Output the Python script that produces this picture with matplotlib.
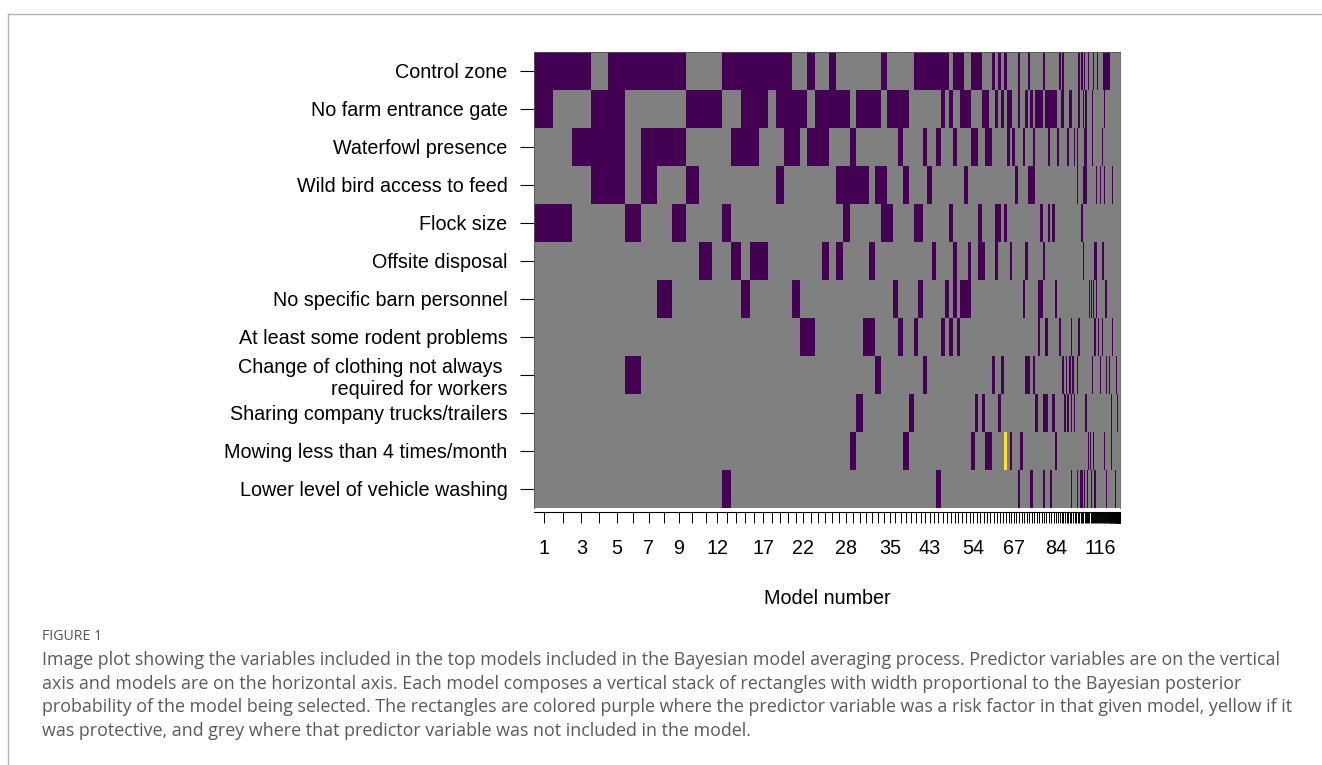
import numpy as np
import matplotlib
matplotlib.use("Agg")
import matplotlib.pyplot as plt
from matplotlib.colors import ListedColormap

plt.rcParams["font.family"] = ["Liberation Sans", "DejaVu Sans"]

# ---------------- data ----------------
variables = [
    "Control zone",
    "No farm entrance gate",
    "Waterfowl presence",
    "Wild bird access to feed",
    "Flock size",
    "Offsite disposal",
    "No specific barn personnel",
    "At least some rodent problems",
    "Change of clothing not always \nrequired for workers",
    "Sharing company trucks/trailers",
    "Mowing less than 4 times/month",
    "Lower level of vehicle washing",
]

# relative posterior model probabilities (widths), models 1..160
pmp = [
    19.2, 19.1, 18.4, 17.6, 16.7, 15.9, 15.8, 15.0, 14.0, 13.3,
    13.3, 9.6, 9.5, 9.4, 9.2, 9.1, 8.7, 8.3, 8.0, 7.9,
    7.8, 7.5, 7.4, 7.3, 7.0, 6.9, 6.9, 6.8, 6.7, 6.6,
    6.5, 6.0, 5.9, 5.8, 5.8, 5.4, 5.3, 5.1, 5.1, 4.6,
    4.6, 4.5, 4.5, 4.4, 4.3, 4.1, 4.0, 4.0, 3.9, 3.8,
    3.8, 3.6, 3.6, 3.6, 3.5, 3.5, 3.4, 3.3, 3.3, 3.2,
    3.2, 3.1, 3.0, 2.7, 2.7, 2.6, 2.6, 2.6, 2.6, 2.6,
    2.5, 2.5, 2.5, 2.5, 2.5, 2.5, 2.5, 2.5, 2.4, 2.4,
    2.4, 2.4, 2.4, 2.4, 1.75, 1.75, 1.75, 1.75, 1.6, 1.6,
    1.6, 1.6, 1.6, 1.6, 1.6, 1.6, 1.45, 1.45, 1.45, 1.45,
    1.25, 1.25, 1.25, 1.25, 1.1, 1.1, 1.1, 1.1, 1.1, 1.1,
    1.1, 1.1, 1.0, 1.0, 1.0, 1.0, 0.97, 0.93, 0.9, 0.85,
    0.8, 0.78, 0.75, 0.72, 0.7, 0.67, 0.64, 0.62, 0.6, 0.57,
    0.55, 0.52, 0.5, 0.48, 0.46, 0.44, 0.42, 0.4, 0.38, 0.36,
    0.34, 0.32, 0.3, 0.28, 0.27, 0.26, 0.25, 0.24, 0.23, 0.22,
    0.21, 0.2, 0.19, 0.18, 0.17, 0.16, 0.15, 0.14, 0.13, 0.12,
]

# models (1-based) in which each variable is a risk factor
control_zone = [1, 2, 3, 5, 6, 7, 8, 9, 13, 14, 15, 16, 17, 18, 19, 20, 23, 26, 34, 40,
                41, 42, 43, 44, 45, 46, 47, 49, 50, 51, 54, 55, 56, 60, 62, 64, 69, 73, 79,
                86, 88, 98, 100, 102, 105, 110, 113, 119, 120, 121, 122, 123, 124, 125, 126, 128]
farm_gate = [1, 4, 5, 10, 11, 12, 15, 16, 17, 19, 20, 21, 22, 24, 25, 26, 27, 28, 30, 31,
             32, 33, 35, 36, 37, 38, 46, 48, 51, 52, 53, 57, 58, 61, 63, 65, 66, 69, 72, 74,
             76, 77, 78, 80, 81, 82, 83, 84, 87, 88, 92, 93, 98, 101, 103, 109, 121, 139]
waterfowl = [3, 4, 5, 7, 8, 9, 14, 15, 16, 20, 21, 23, 24, 25, 29, 37, 42, 45, 49, 54,
             55, 58, 59, 65, 67, 71, 75, 81, 85, 91, 95, 97, 102, 103, 109, 118, 130, 134,
             139, 148, 150, 152]
wild_bird = [4, 5, 7, 10, 19, 27, 28, 29, 30, 31, 33, 34, 38, 43, 52, 68, 73, 74, 75, 97,
             101, 102, 103, 112, 116, 121, 130, 133]
flock_size = [1, 2, 6, 9, 13, 28, 34, 35, 40, 41, 48, 56, 61, 62, 64, 78, 81, 83, 100]
offsite = [11, 14, 16, 17, 25, 27, 32, 44, 49, 53, 56, 57, 61, 66, 72, 79, 101, 111, 112,
           118, 120, 127]
barn_personnel = [8, 15, 21, 36, 41, 47, 49, 51, 52, 53, 71, 77, 78, 84, 106, 108, 110, 112,
                  122, 123, 127, 139]
rodents = [22, 23, 31, 32, 37, 40, 46, 48, 50, 77, 80, 86, 93, 98, 111, 114, 118, 133]
clothing = [6, 33, 42, 60, 63, 72, 73, 75, 88, 90, 92, 94, 97, 109, 116, 123, 128, 143,
            152, 156]
sharing_trucks = [30, 39, 55, 57, 62, 76, 79, 80, 83, 89, 91, 93, 95, 103, 131, 147]
mowing = [29, 38, 54, 58, 59, 66, 70, 84, 105, 107, 110, 121, 131, 153]
vehicle_washing = [13, 45, 69, 74, 79, 82, 93, 97, 99, 100, 102, 104, 108, 111, 119, 123,
                   134, 140, 142]

# protective effects (yellow): (variable row index, model)
protective = [(10, 64)]

labelled_models = [1, 3, 5, 7, 9, 12, 17, 22, 28, 35, 43, 54, 67, 84, 116]

# ---------------- build matrix ----------------
risk_lists = [control_zone, farm_gate, waterfowl, wild_bird, flock_size, offsite,
              barn_personnel, rodents, clothing, sharing_trucks, mowing, vehicle_washing]
n_models = len(pmp)
C = np.zeros((len(variables), n_models))
for r, models in enumerate(risk_lists):
    for m in models:
        C[r, m - 1] = 1
for r, m in protective:
    C[r, m - 1] = 2

w = np.array(pmp)
xedges = np.concatenate([[0], np.cumsum(w)])
centers = xedges[:-1] + w / 2
yedges = np.arange(len(variables) + 1)

# ---------------- figure ----------------
fig = plt.figure(figsize=(13.22, 7.65), dpi=100)
W, H = 1322, 765
ax = fig.add_axes([534 / W, 1 - 508 / H, (1120 - 534) / W, (508 - 52) / H])

cmap = ListedColormap(["#808080", "#440154", "#FDE725"])
ax.pcolormesh(xedges, yedges, C, cmap=cmap, vmin=-0.5, vmax=2.5)
ax.set_xlim(xedges[0], xedges[-1])
ax.set_ylim(len(variables), 0)

fs = 14.2
ax.set_yticks(np.arange(len(variables)) + 0.5)
ax.set_yticklabels(variables)
ax.set_xticks(centers)
ax.set_xticklabels([str(i + 1) if (i + 1) in labelled_models else "" for i in range(n_models)])
ax.tick_params(axis="y", length=10, width=0.8, pad=9, colors="black", labelsize=fs,
               labelfontfamily="Liberation Sans")
ax.tick_params(axis="x", length=8, width=0.7, pad=11.5, colors="black", labelsize=fs,
               labelfontfamily="Liberation Sans")

for s in ["top", "right", "left"]:
    ax.spines[s].set_linewidth(0.6)
    ax.spines[s].set_color("#555555")
ax.spines["bottom"].set_position(("outward", 3))
ax.spines["bottom"].set_linewidth(0.8)

ax.set_xlabel("Model number", fontsize=fs, family="Liberation Sans", va="center")
ax.xaxis.set_label_coords(0.5, -(599 - 508) / (508 - 52))

# ---------------- frame and caption ----------------
frame_color = "#b5b5b5"
fig.add_artist(plt.Line2D([8 / W, 1.0], [1 - 14 / H, 1 - 14 / H], color=frame_color, lw=1.0))
fig.add_artist(plt.Line2D([8 / W, 8 / W], [0.0, 1 - 14 / H], color=frame_color, lw=1.0))

cap_font = ["Open Sans", "DejaVu Sans"]
fig.text(42 / W, 1 - 636 / H, "FIGURE 1", fontsize=10.2, family=cap_font, color="#555555",
         va="center", ha="left")
caption = [
    "Image plot showing the variables included in the top models included in the Bayesian model averaging process. Predictor variables are on the vertical",
    "axis and models are on the horizontal axis. Each model composes a vertical stack of rectangles with width proportional to the Bayesian posterior",
    "probability of the model being selected. The rectangles are colored purple where the predictor variable was a risk factor in that given model, yellow if it",
    "was protective, and grey where that predictor variable was not included in the model.",
]
for i, line in enumerate(caption):
    fig.text(42 / W, 1 - (660 + 23.7 * i) / H, line, fontsize=12.9, family=cap_font,
             color="#5a5a5a", va="center", ha="left")

fig.savefig("out.png", dpi=100)
